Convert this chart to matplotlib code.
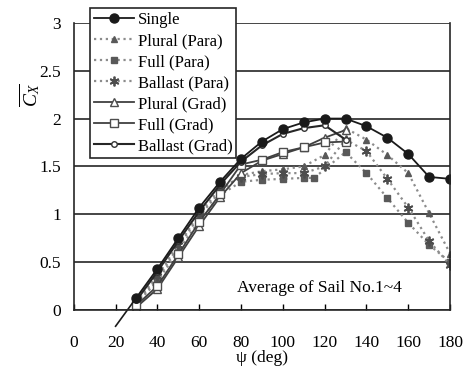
#Cx average chart for the sail setups
import matplotlib.pyplot as plt
import numpy as np

plt.rcParams['font.family'] = ['Liberation Serif', 'DejaVu Serif']
plt.rcParams['mathtext.fontset'] = 'custom'
plt.rcParams['mathtext.rm'] = 'Liberation Serif'
plt.rcParams['mathtext.it'] = 'Liberation Serif:italic'

# data
psi = [30, 40, 50, 60, 70, 80, 90, 100, 110, 120, 130, 140, 150, 160, 170, 180]
single = [0.13, 0.43, 0.75, 1.07, 1.34, 1.58, 1.76, 1.89, 1.96, 2.00, 2.00, 1.92, 1.80, 1.63, 1.39, 1.37]
single_tail_x = [20, 30]
single_tail_y = [-0.17, 0.13]

plural_para = [0.08, 0.33, 0.66, 0.98, 1.24, 1.41, 1.45, 1.47, 1.50, 1.62, 1.90, 1.78, 1.62, 1.43, 1.01, 0.59]

full_para_x = [30, 40, 50, 60, 70, 80, 90, 100, 110, 115, 130, 140, 150, 160, 170, 180]
full_para = [0.07, 0.30, 0.62, 0.93, 1.20, 1.34, 1.36, 1.37, 1.38, 1.38, 1.65, 1.43, 1.17, 0.91, 0.68, 0.50]

ballast_para = [0.09, 0.36, 0.68, 1.00, 1.27, 1.39, 1.42, 1.43, 1.43, 1.50, 1.78, 1.66, 1.37, 1.07, 0.72, 0.47]

grad_x = [30, 40, 50, 60, 70, 80, 90, 100, 110, 120, 130]
plural_grad = [0.03, 0.22, 0.55, 0.88, 1.18, 1.43, 1.56, 1.63, 1.70, 1.80, 1.88]
full_grad = [0.05, 0.25, 0.58, 0.92, 1.21, 1.52, 1.57, 1.65, 1.70, 1.75, 1.76]
ballast_grad = [0.10, 0.40, 0.72, 1.03, 1.31, 1.55, 1.72, 1.84, 1.90, 1.93, 1.78]

fig = plt.figure(figsize=(4.64, 3.69), dpi=100)
ax = fig.add_axes([0.159, 0.160, 0.811, 0.778])

# dotted "Para" series first so the solid ones sit on top
ax.plot(psi, plural_para, ':', color='0.55', lw=1.6, marker='^', ms=5,
        mfc='0.35', mec='0.35', label='Plural (Para)')
ax.plot(full_para_x, full_para, ':', color='0.55', lw=1.6, marker='s', ms=5,
        mfc='0.35', mec='0.35', label='Full (Para)')
ax.plot(psi, ballast_para, ':', color='0.55', lw=1.6, marker=(6, 2, 0), ms=7,
        mew=1.3, mec='0.3', label='Ballast (Para)')

ax.plot(grad_x, plural_grad, '-', color='0.25', lw=1.3, marker='^', ms=6,
        mfc='white', mec='0.3', label='Plural (Grad)')
ax.plot(grad_x, full_grad, '-', color='0.25', lw=1.3, marker='s', ms=6,
        mfc='white', mec='0.3', label='Full (Grad)')
ax.plot(grad_x, ballast_grad, '-', color='0.15', lw=1.5, marker='o', ms=4,
        mfc='white', mec='0.2', label='Ballast (Grad)')

ax.plot(single_tail_x, single_tail_y, '-', color='0.1', lw=1.2, clip_on=False)
ax.plot(psi, single, '-', color='0.1', lw=1.3, marker='o', ms=6.5,
        mfc='0.1', mec='0.1', label='Single')

ax.set_xlim(0, 180)
ax.set_ylim(0, 3)
ax.set_xticks(np.arange(0, 181, 20))
ax.set_yticks(np.arange(0, 3.01, 0.5))
ax.set_yticklabels(['0', '0.5', '1', '1.5', '2', '2.5', '3'])
ax.yaxis.grid(True, color='0.15', lw=1.2)
ax.set_axisbelow(True)
ax.tick_params(axis='x', direction='in', length=4, width=1, pad=18, labelsize=12.5)
ax.tick_params(axis='y', length=0, pad=9, labelsize=12.5)
for s in ax.spines.values():
    s.set_color('0.15')
    s.set_linewidth(1.2)
ax.spines['top'].set_visible(False)

ax.set_xlabel('ψ (deg)', fontsize=12.5, labelpad=-1)
fig.text(30 / 464, 1 - 95 / 369, r'$\overline{C_X}$', fontsize=14,
         rotation=90, ha='center', va='center')

ax.text(78, 0.23, 'Average of Sail No.1~4', fontsize=12.5, va='center', ha='left')

handles, labels = ax.get_legend_handles_labels()
order = [6, 0, 1, 2, 3, 4, 5]
leg = ax.legend([handles[i] for i in order], [labels[i] for i in order],
                loc='upper left', bbox_to_anchor=(90 / 464, 1 - 8 / 369),
                bbox_transform=fig.transFigure, fontsize=12, frameon=True,
                fancybox=False, edgecolor='0.15', framealpha=1,
                handlelength=2.4, handletextpad=0.2, borderpad=0.25,
                labelspacing=0.3, borderaxespad=0)
leg.get_frame().set_linewidth(1.2)

fig.savefig('out.png', dpi=100)
